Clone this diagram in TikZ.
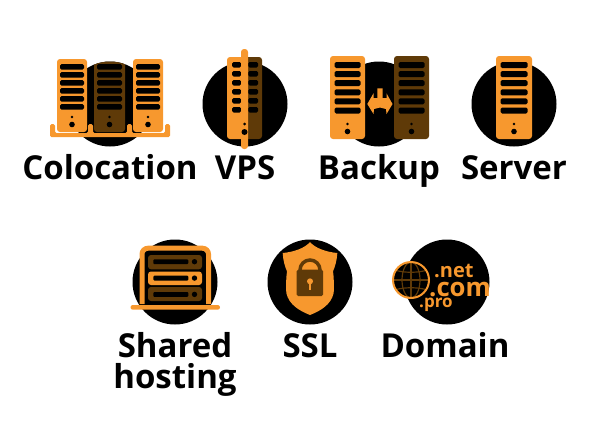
\documentclass[tikz,border=0pt]{standalone}
\usepackage{fontspec}
\setmainfont{Open Sans}
\definecolor{hostorange}{HTML}{F7982E}
\definecolor{hostbrown}{HTML}{5F3A08}
\tikzset{
    disc/.style = {fill = black},
    caption/.style = {font = \fontsize{33}{33}\selectfont\bfseries, inner sep = 0pt, align = center},
    tld/.style = {text = hostorange, inner sep = 0pt, font = \bfseries}
}
% server case: left, top, right, bottom, slot inset, slot top, slot height, slot pitch, case colour
\newcommand{\servercase}[9]{
    \fill [#9, rounded corners = 3pt] (#1,#2) rectangle (#3,#4);
    \foreach \i in {0,...,5} {
        \fill [black, rounded corners = 1.5pt] (#1+#5,#2+#6+\i*#8) rectangle (#3-#5,#2+#6+#7+\i*#8);
    }
    \fill [black] ({(#1+#3)/2},#4-15) circle [radius = 1.4];
    \fill [black] ({(#1+#3)/2},#4-7.5) circle [radius = 2.8];
}
\begin{document}
\begin{tikzpicture}[x = 1pt, y = -1pt]
    \useasboundingbox (0,0) rectangle (600,434);

    % circles
    \fill [disc] (110,104) circle [radius = 42.5];
    \fill [disc] (245,104) circle [radius = 42.5];
    \fill [disc] (379,104) circle [radius = 42.5];
    \fill [disc] (514,104) circle [radius = 42.5];
    \fill [disc] (175,282) circle [radius = 42.5];
    \fill [disc] (310,282) circle [radius = 42.5];
    \fill [disc] (447,282) circle [radius = 42.5];

    % colocation
    \begin{scope}
        \clip (110,104) circle [radius = 42.5];
        \servercase{94}{59}{125}{132}{3}{5}{5.5}{8}{hostbrown}
    \end{scope}
    \servercase{57}{59}{87}{132}{3}{5}{5.5}{8}{hostorange}
    \servercase{133}{59}{163}{132}{3}{5}{5.5}{8}{hostorange}
    \fill [hostorange, rounded corners = 1.5pt] (50,124) -- (55,124) -- (55,133) -- (88,133) -- (88,124) -- (93,124) -- (93,133) -- (127,133) -- (127,124) -- (132,124) -- (132,133) -- (165,133) -- (165,124) -- (170,124) -- (170,137) -- (50,137) -- cycle;

    % vps
    \fill [hostorange, rounded corners = 3pt] (244,57) -- (227,57) -- (227,139) -- (244,139) -- cycle;
    \fill [hostbrown, rounded corners = 3pt] (244,57) -- (262,57) -- (262,139) -- (244,139) -- cycle;
    \foreach \i in {0,...,5} {
        \fill [black, rounded corners = 1.5pt] (232,62+\i*9) rectangle (241,67.5+\i*9);
        \fill [black, rounded corners = 1.5pt] (248,62+\i*9) rectangle (258,67.5+\i*9);
    }
    \fill [hostorange, rounded corners = 3pt] (241,49) rectangle (248,149);
    \fill [black] (244.5,124) circle [radius = 1.5];
    \fill [black] (244.5,132) circle [radius = 3];

    % backup
    \servercase{330}{56}{365}{139}{4.5}{6}{6}{9.1}{hostorange}
    \servercase{394}{56}{429}{139}{4.5}{6}{6}{9.1}{hostbrown}
    \fill [hostorange] (367.3,104) -- (373.5,93.3) -- (373.5,98) -- (377.3,98) -- (377.3,88.3) -- (382.7,88.3) -- (382.7,98) -- (386.5,98) -- (386.5,93.3) -- (392.5,104) -- (386.5,114) -- (386,109) -- (380,107.5) -- (374,109) -- (373.5,114) -- cycle;

    % server
    \servercase{496}{56}{532}{139}{4.5}{6}{6}{9.1}{hostorange}

    % shared hosting
    \draw [hostorange, line width = 5pt, rounded corners = 6pt] (142,304) -- (142,248.2) -- (208.5,248.2) -- (208.5,304);
    \fill [hostbrown, rounded corners = 3pt] (148,255) rectangle (202,269.3);
    \fill [hostorange, rounded corners = 3pt] (148,271.5) rectangle (202,285);
    \fill [hostbrown, rounded corners = 3pt] (148,287) rectangle (202,301);
    \foreach \y in {259.3,275.7,292} {
        \fill [black, rounded corners = 1pt] (153.3,\y) rectangle (188.3,\y+4.8);
        \fill [black] (194.5,\y+2.4) circle [radius = 2.7];
    }
    \fill [hostorange, rounded corners = 2.3pt] (130.5,305) rectangle (220,309.7);

    % ssl
    \fill [hostorange] (310,242) .. controls (315,248) and (326,252) .. (337.3,253) .. controls (337,260) and (335,267) .. (333,271.3) .. controls (334,278) and (334,285) .. (333.7,293) .. controls (331,305) and (320,311) .. (310,315) .. controls (300,311) and (289,305) .. (286.3,293) .. controls (286,285) and (286,278) .. (287,271.3) .. controls (285,267) and (283,260) .. (282.7,253) .. controls (294,252) and (305,248) .. cycle;
    \draw [hostbrown, line width = 3.5pt] (300,272) -- (300,270) arc [start angle = 180, end angle = 360, radius = 10] -- (320,272);
    \fill [hostbrown, rounded corners = 1.5pt] (296.7,269.7) rectangle (323,296);
    \fill [hostorange] (310,281.3) circle [radius = 3];
    \fill [hostorange] (308.8,281.3) rectangle (311.2,289.7);

    % domain
    \fill [black] (411,280) circle [radius = 18];
    \begin{scope}
        \clip (411,280) circle [radius = 18];
        \draw [hostbrown, line width = 1.2pt] (411,262) -- (411,298);
        \draw [hostbrown, line width = 1.2pt] (411,280) ellipse [x radius = 9, y radius = 18];
        \draw [hostbrown, line width = 1.2pt] (393,280) -- (429,280);
        \draw [hostbrown, line width = 1.2pt] (395,270) .. controls (403,273) and (419,273) .. (427,270);
        \draw [hostbrown, line width = 1.2pt] (395,290) .. controls (403,287) and (419,287) .. (427,290);
    \end{scope}
    \draw [hostorange, line width = 2pt] (411,280) circle [radius = 18];
    \node (net) [tld, anchor = base west] at (434,277) {\fontsize{20}{20}\selectfont .net};
    \node (com) [tld, anchor = base west] at (429,296) {\fontsize{25.7}{26}\selectfont .com};
    \node (pro) [tld, anchor = base west] at (419,307.5) {\fontsize{17}{17}\selectfont .pro};

    % labels
    \node (colocation) [caption, anchor = base] at (110,179) {Colocation};
    \node (vps) [caption, anchor = base] at (245,179) {VPS};
    \node (backup) [caption, anchor = base] at (379,179) {Backup};
    \node (server) [caption, anchor = base] at (514,179) {Server};
    \node (shared) [caption, anchor = base] at (175,357) {Shared};
    \node (hosting) [caption, anchor = base] at (175,388) {hosting};
    \node (ssl) [caption, anchor = base] at (310,357) {SSL};
    \node (domain) [caption, anchor = base] at (445,357) {Domain};
\end{tikzpicture}
\end{document}
